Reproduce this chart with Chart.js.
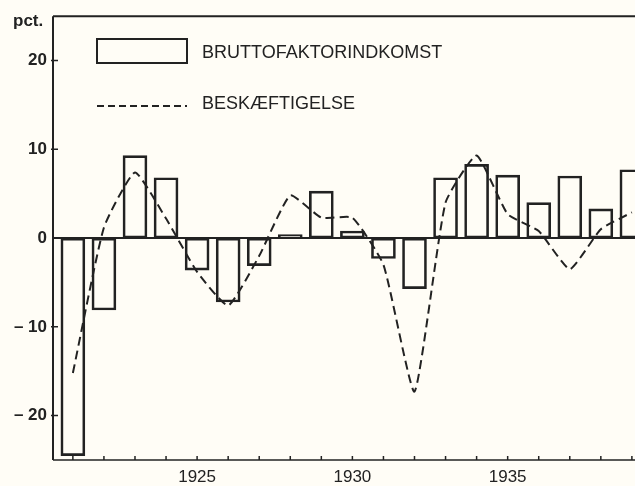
<!DOCTYPE html>
<html>
<head>
<meta charset="utf-8">
<script src="https://cdn.jsdelivr.net/npm/chart.js@4/dist/chart.umd.min.js"></script>
<style>
  html, body { margin: 0; padding: 0; background: #fffdf6; overflow: hidden; }
  canvas { display: block; }
</style>
</head>
<body>
<canvas id="chart" width="635" height="486"></canvas>
<script>
'use strict';

// Years on the x axis, one bar and one line point per year
const years = [1921, 1922, 1923, 1924, 1925, 1926, 1927, 1928, 1929, 1930,
               1931, 1932, 1933, 1934, 1935, 1936, 1937, 1938, 1939];

// Bruttofaktorindkomst, pct. change
const income = [-24.5, -8.1, 9.3, 6.8, -3.6, -7.2, -3.1, 0.4, 5.3, 0.8,
                -2.3, -5.7, 6.8, 8.3, 7.1, 4.0, 7.0, 3.3, 7.7];

// Beskæftigelse, pct. change
const employment = [-15.2, 1.2, 7.4, 2.2, -3.8, -7.6, -2.0, 4.8, 2.3, 2.3,
                    -3.0, -17.3, 4.0, 9.3, 2.7, 0.8, -3.5, 1.0, 2.9];

const yTicks = [-20, -10, 0, 10, 20];
const xLabels = [1925, 1930, 1935];

const INK = '#222';
const FONT = '"Liberation Sans", Arial, sans-serif';

// Frame, tick marks, zero line, legend and unit label
const paperPlugin = {
  id: 'paper',
  beforeDraw(chart) {
    const ctx = chart.ctx;
    ctx.save();
    ctx.fillStyle = '#fffdf6';
    ctx.fillRect(0, 0, chart.width, chart.height);
    ctx.restore();
  },
  afterDatasetsDraw(chart) {
    const { ctx, chartArea: a } = chart;
    const xs = chart.scales.x, ys = chart.scales.y;
    ctx.save();
    ctx.strokeStyle = INK;
    ctx.lineCap = 'butt';

    // top and left frame
    ctx.lineWidth = 2;
    ctx.beginPath();
    ctx.moveTo(a.left, a.top); ctx.lineTo(chart.width, a.top);
    ctx.moveTo(a.left, a.top); ctx.lineTo(a.left, a.bottom);
    ctx.stroke();

    // bottom axis
    ctx.lineWidth = 1.5;
    ctx.beginPath();
    ctx.moveTo(a.left, a.bottom); ctx.lineTo(chart.width, a.bottom);
    ctx.stroke();

    // zero line
    const y0 = ys.getPixelForValue(0);
    ctx.lineWidth = 2;
    ctx.beginPath();
    ctx.moveTo(a.left, y0); ctx.lineTo(chart.width, y0);
    ctx.stroke();

    // tick marks
    ctx.lineWidth = 1.5;
    ctx.beginPath();
    yTicks.forEach(v => {
      if (v === 0) return;
      const py = ys.getPixelForValue(v);
      ctx.moveTo(a.left - 2, py); ctx.lineTo(a.left + 5, py);
    });
    years.forEach(yr => {
      const px = xs.getPixelForValue(yr);
      ctx.moveTo(px, a.bottom); ctx.lineTo(px, a.bottom - 4);
    });
    ctx.stroke();

    // legend
    ctx.lineWidth = 2;
    ctx.strokeRect(97, 39, 90, 24);
    ctx.setLineDash([7, 4]);
    ctx.beginPath();
    ctx.moveTo(97, 106); ctx.lineTo(187, 106);
    ctx.stroke();
    ctx.setLineDash([]);

    ctx.fillStyle = INK;
    ctx.font = '18px ' + FONT;
    ctx.textBaseline = 'middle';
    ctx.textAlign = 'left';
    ctx.fillText('BRUTTOFAKTORINDKOMST', 202, 53);
    ctx.fillText('BESKÆFTIGELSE', 202, 104);

    // unit
    ctx.font = 'bold 17px ' + FONT;
    ctx.textBaseline = 'alphabetic';
    ctx.fillText('pct.', 13, 26);
    ctx.restore();
  }
};

const ctx = document.getElementById('chart');

new Chart(ctx, {
  data: {
    datasets: [
      {
        type: 'line',
        label: 'BESKÆFTIGELSE',
        data: years.map((yr, i) => ({ x: yr, y: employment[i] })),
        borderColor: INK,
        borderWidth: 2,
        borderDash: [9, 5],
        tension: 0.15,
        pointRadius: 0,
        fill: false,
      },
      {
        type: 'bar',
        label: 'BRUTTOFAKTORINDKOMST',
        data: years.map((yr, i) => ({ x: yr, y: income[i] })),
        backgroundColor: 'rgba(0,0,0,0)',
        borderColor: INK,
        borderWidth: 2,
        borderSkipped: false,
        barThickness: 24,
      },
    ],
  },
  options: {
    responsive: false,
    animation: false,
    devicePixelRatio: 1,
    layout: { padding: { top: 15, right: 0, left: 0, bottom: 0 } },
    plugins: {
      legend: { display: false },
      tooltip: { enabled: false },
    },
    scales: {
      x: {
        type: 'linear',
        offset: false,
        min: 1920.36,
        max: 1939.1,
        grid: { display: false, offset: false, drawTicks: false, tickLength: 0 },
        border: { display: false },
        afterBuildTicks: s => { s.ticks = xLabels.map(v => ({ value: v })); },
        afterFit: s => { s.height = 26; },
        ticks: {
          color: INK,
          font: { family: FONT, size: 17 },
          padding: 7,
          maxRotation: 0,
          callback: v => String(v),
        },
      },
      y: {
        min: -25,
        max: 25,
        grid: { display: false, drawTicks: false, tickLength: 0 },
        border: { display: false },
        afterBuildTicks: s => { s.ticks = yTicks.map(v => ({ value: v })); },
        afterFit: s => { s.width = 53; },
        ticks: {
          color: INK,
          font: { family: FONT, size: 17, weight: 'bold' },
          padding: 6,
          callback: v => (v < 0 ? '\u2013 ' + Math.abs(v) : String(v)),
        },
      },
    },
  },
  plugins: [paperPlugin],
});
</script>
</body>
</html>
